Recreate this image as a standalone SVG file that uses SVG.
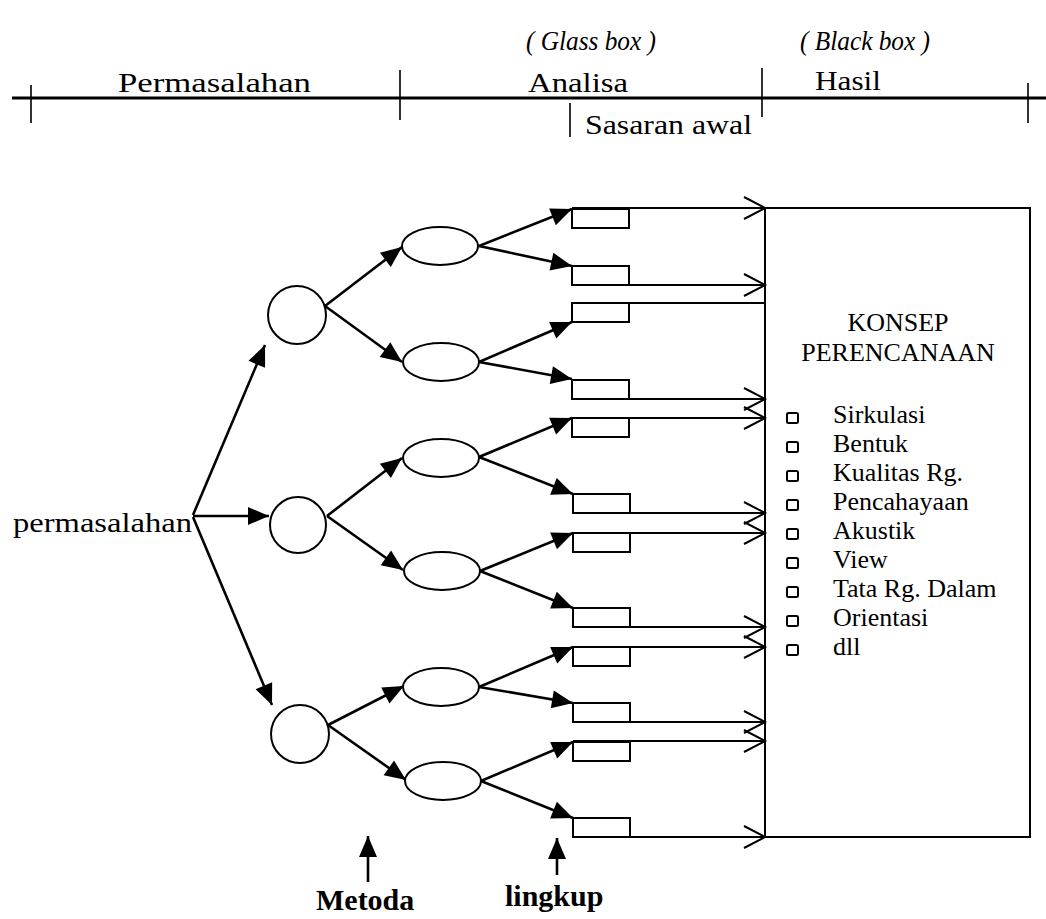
<svg xmlns="http://www.w3.org/2000/svg" width="1046" height="919" viewBox="0 0 1046 919">
<style>
text{font-family:"Liberation Serif","Times New Roman",serif;fill:#000}
.lbl{font-size:28px}
.it{font-size:28px;font-style:italic}
.title{font-size:26px}
.item{font-size:26px}
.bold{font-size:30px;font-weight:bold}
.node{fill:#fff;stroke:#000;stroke-width:2}
.ln{stroke:#000;stroke-width:2.8;fill:none}
.tick{stroke:#000;stroke-width:1.6;fill:none}
.arr{stroke:#000;stroke-width:2.6;fill:none;marker-end:url(#fa)}
.out{stroke:#000;stroke-width:2;fill:none;marker-end:url(#oa)}
.out0{stroke:#000;stroke-width:2;fill:none}
.cb{fill:none;stroke:#000;stroke-width:2}
</style>
<defs>
<marker id="fa" markerUnits="userSpaceOnUse" markerWidth="24" markerHeight="20" refX="21" refY="9" orient="auto" overflow="visible">
<path d="M0,0 L21,9 L0,18 z" fill="#000"/>
</marker>
<marker id="oa" markerUnits="userSpaceOnUse" markerWidth="24" markerHeight="24" refX="21" refY="11" orient="auto" overflow="visible">
<path d="M0,0 L21,11 L0,22" fill="none" stroke="#000" stroke-width="2"/>
</marker>
</defs>

<g id="header">
<path class="ln" d="M12,98 L1046,98"/>
<path class="tick" d="M31,85 L31,123 M400,70 L400,120 M762,68 L762,117 M1028,83 L1028,123 M570,103 L570,137"/>
<text class="it" x="526" y="50" textLength="130" lengthAdjust="spacingAndGlyphs">( Glass box )</text>
<text class="it" x="800" y="50" textLength="130" lengthAdjust="spacingAndGlyphs">( Black box )</text>
<text class="lbl" x="118" y="92" textLength="193" lengthAdjust="spacingAndGlyphs">Permasalahan</text>
<text class="lbl" x="528" y="92" textLength="100" lengthAdjust="spacingAndGlyphs">Analisa</text>
<text class="lbl" x="815" y="90" textLength="66" lengthAdjust="spacingAndGlyphs">Hasil</text>
<text class="lbl" x="585" y="134" textLength="167" lengthAdjust="spacingAndGlyphs">Sasaran awal</text>
</g>

<g id="connectors">
<path class="arr" d="M193,515 L265,345"/>
<path class="arr" d="M193,516 L269,516"/>
<path class="arr" d="M193,517 L272,705"/>
<path class="arr" d="M325,306 L402,247"/>
<path class="arr" d="M325,306 L402,362"/>
<path class="arr" d="M327,516 L402,458"/>
<path class="arr" d="M327,516 L403,570"/>
<path class="arr" d="M328,725 L404,686"/>
<path class="arr" d="M328,725 L406,780"/>
<path class="arr" d="M479,246 L572,209"/>
<path class="arr" d="M479,246 L572,266"/>
<path class="arr" d="M479,362 L572,322"/>
<path class="arr" d="M479,362 L572,379"/>
<path class="arr" d="M479,457 L572,418"/>
<path class="arr" d="M479,457 L573,494"/>
<path class="arr" d="M480,571 L573,533"/>
<path class="arr" d="M480,571 L573,608"/>
<path class="arr" d="M479,687 L573,647"/>
<path class="arr" d="M479,687 L573,703"/>
<path class="arr" d="M481,781 L573,742"/>
<path class="arr" d="M481,781 L573,818"/>
<path class="out" d="M572,208 L765,208"/>
<path class="out" d="M572,285 L765,285"/>
<path class="out0" d="M572,303 L765,303"/>
<path class="out" d="M572,399 L765,399"/>
<path class="out" d="M572,418 L765,418"/>
<path class="out" d="M573,513 L765,513"/>
<path class="out" d="M573,533 L765,533"/>
<path class="out" d="M573,627 L765,627"/>
<path class="out" d="M573,647 L765,647"/>
<path class="out" d="M573,722 L765,722"/>
<path class="out" d="M573,741 L765,741"/>
<path class="out" d="M573,837 L765,837"/>
<path class="arr" d="M368,882 L368,836"/>
<path class="arr" d="M557,875 L557,838"/>
</g>

<g id="source">
<text class="lbl" x="13" y="532" textLength="179" lengthAdjust="spacingAndGlyphs">permasalahan</text>
</g>

<g id="circle1"><circle class="node" cx="297" cy="315" r="29"/></g>
<g id="circle2"><circle class="node" cx="298" cy="525" r="28"/></g>
<g id="circle3"><circle class="node" cx="300" cy="734" r="29"/></g>

<g id="ellipse1"><ellipse class="node" cx="440" cy="246" rx="38" ry="19"/></g>
<g id="ellipse2"><ellipse class="node" cx="441" cy="362" rx="38" ry="19"/></g>
<g id="ellipse3"><ellipse class="node" cx="441" cy="458" rx="38" ry="19"/></g>
<g id="ellipse4"><ellipse class="node" cx="442" cy="571" rx="38" ry="19"/></g>
<g id="ellipse5"><ellipse class="node" cx="441" cy="687" rx="38" ry="19"/></g>
<g id="ellipse6"><ellipse class="node" cx="443" cy="781" rx="38" ry="19"/></g>

<g id="rect1"><rect class="node" x="572" y="209" width="57" height="19"/></g>
<g id="rect2"><rect class="node" x="572" y="266" width="57" height="19"/></g>
<g id="rect3"><rect class="node" x="572" y="303" width="57" height="19"/></g>
<g id="rect4"><rect class="node" x="572" y="380" width="57" height="19"/></g>
<g id="rect5"><rect class="node" x="572" y="418" width="57" height="19"/></g>
<g id="rect6"><rect class="node" x="573" y="494" width="57" height="19"/></g>
<g id="rect7"><rect class="node" x="573" y="533" width="57" height="19"/></g>
<g id="rect8"><rect class="node" x="573" y="608" width="57" height="19"/></g>
<g id="rect9"><rect class="node" x="573" y="647" width="57" height="19"/></g>
<g id="rect10"><rect class="node" x="573" y="703" width="57" height="19"/></g>
<g id="rect11"><rect class="node" x="573" y="742" width="57" height="19"/></g>
<g id="rect12"><rect class="node" x="573" y="818" width="57" height="19"/></g>

<g id="konsep">
<rect x="765" y="208" width="265" height="629" fill="none" stroke="#000" stroke-width="2"/>
<text class="title" x="898" y="331" text-anchor="middle">KONSEP</text>
<text class="title" x="898" y="361" text-anchor="middle">PERENCANAAN</text>
<g class="cb">
<rect x="787" y="413" width="11" height="10" rx="1.5"/>
<rect x="787" y="442" width="11" height="10" rx="1.5"/>
<rect x="787" y="471" width="11" height="10" rx="1.5"/>
<rect x="787" y="500" width="11" height="10" rx="1.5"/>
<rect x="787" y="529" width="11" height="10" rx="1.5"/>
<rect x="787" y="558" width="11" height="10" rx="1.5"/>
<rect x="787" y="587" width="11" height="10" rx="1.5"/>
<rect x="787" y="616" width="11" height="10" rx="1.5"/>
<rect x="787" y="645" width="11" height="10" rx="1.5"/>
</g>
<text class="item" x="833" y="423">Sirkulasi</text>
<text class="item" x="833" y="452">Bentuk</text>
<text class="item" x="833" y="481">Kualitas Rg.</text>
<text class="item" x="833" y="510">Pencahayaan</text>
<text class="item" x="833" y="539">Akustik</text>
<text class="item" x="833" y="568">View</text>
<text class="item" x="833" y="597">Tata Rg. Dalam</text>
<text class="item" x="833" y="626">Orientasi</text>
<text class="item" x="833" y="655">dll</text>
</g>

<g id="labels">
<text class="bold" x="316" y="910">Metoda</text>
<text class="bold" x="505" y="906">lingkup</text>
</g>
</svg>
